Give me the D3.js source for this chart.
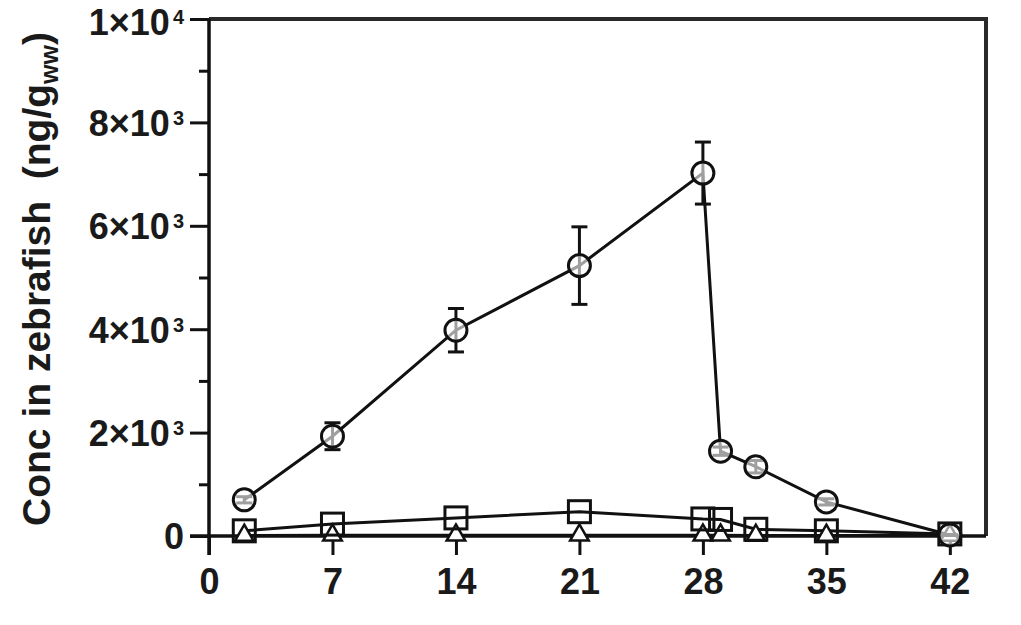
<!DOCTYPE html>
<html><head><meta charset="utf-8">
<script src="https://cdn.jsdelivr.net/npm/d3@7"></script>
<style>body{margin:0;background:#fff}svg{display:block}</style>
</head><body>
<svg id="c" width="1021" height="625"></svg>
<script>
const days = [2, 7, 14, 21, 28, 29, 31, 35, 42];
const circleVals = [700, 1930, 3980, 5230, 7020, 1640, 1340, 660, 20];
const circleErr  = [60, 260, 420, 750, 600, 80, 120, 60, 10];
const squareVals = [100, 230, 350, 470, 330, 320, 130, 100, 40];
const triangleVals = [10, 15, 15, 15, 15, 15, 10, 10, 10];
const xTicks = [0, 7, 14, 21, 28, 35, 42];
const yMajor = [0, 2000, 4000, 6000, 8000, 10000];
const yMinor = [1000, 3000, 5000, 7000, 9000];
const yLabels = ["0", "2×10|3", "4×10|3", "6×10|3", "8×10|3", "1×10|4"];

const svg = d3.select("#c");
const L = 209, R = 986, T = 19, B = 536;
const x = d3.scaleLinear().domain([0, 44.05]).range([L, R]);
const y = d3.scaleLinear().domain([0, 10000]).range([B, T]);
const font = "'Liberation Sans', Arial, sans-serif";

// Frame (top & right)
svg.append("path").attr("d", `M${L},${T}H${R}V${B}`).attr("fill", "none")
  .attr("stroke", "#2a2a2a").attr("stroke-width", 4);

// Y axis minor ticks
const yAxisMinor = d3.axisLeft(y).tickValues(yMinor).tickSize(10).tickFormat("");
svg.append("g").attr("transform", `translate(${L},0)`).call(yAxisMinor)
  .call(g => g.select(".domain").remove())
  .selectAll("line").attr("stroke", "#111").attr("stroke-width", 3);

// Y axis major
const yAxis = d3.axisLeft(y).tickValues(yMajor).tickSize(19).tickPadding(6)
  .tickFormat((d, i) => yLabels[i]);
const gy = svg.append("g").attr("transform", `translate(${L},0)`).call(yAxis);
gy.select(".domain").attr("d", `M0,${y(10000)}V${B + 19}`).attr("stroke", "#111").attr("stroke-width", 3.5);
gy.selectAll("line").attr("stroke", "#111").attr("stroke-width", 3);
gy.selectAll("text").each(function(d) {
  const t = d3.select(this); const s = t.text().split("|");
  t.text(null).attr("font-family", font).attr("font-weight", "bold")
   .attr("font-size", 36).attr("fill", "#1a1a1a").attr("dy", d === 10000 ? "0.42em" : "0.36em");
  t.append("tspan").text(s[0]);
  if (s[1]) t.append("tspan").text(s[1]).attr("font-size", 20).attr("dy", -11).attr("dx", 3);
});

// X axis
const xAxis = d3.axisBottom(x).tickValues(xTicks).tickSize(19).tickPadding(13);
const gx = svg.append("g").attr("transform", `translate(0,${B})`).call(xAxis);
gx.select(".domain").attr("d", `M${L - 19},0H${R}`).attr("stroke", "#111").attr("stroke-width", 3.5);
gx.selectAll("line").attr("stroke", "#111").attr("stroke-width", 3);
gx.selectAll("text").attr("font-family", font).attr("font-weight", "bold")
  .attr("font-size", 36).attr("fill", "#1a1a1a");

// Y label
const yl = svg.append("text").attr("transform", "translate(36,279) rotate(-90)")
  .attr("text-anchor", "middle").attr("dy", "0.36em")
  .attr("font-family", font).attr("font-weight", "bold").attr("font-size", 39).attr("fill", "#1a1a1a");
yl.append("tspan").text("Conc in zebrafish\u00a0\u00a0(ng/g");
yl.append("tspan").text("ww").attr("font-size", 25).attr("dy", 8);
yl.append("tspan").text(")").attr("dy", -8);

const line = d3.line().x(d => x(d[0])).y(d => y(d[1]));
const stroke = "#111";

function series(vals) {
  return days.map((d, i) => [d, vals[i]]);
}

// Lines
[triangleVals, squareVals, circleVals].forEach(v => {
  svg.append("path").datum(series(v)).attr("d", line).attr("fill", "none")
    .attr("stroke", stroke).attr("stroke-width", 3);
});

// Triangles
svg.append("g").selectAll("path").data(series(triangleVals)).join("path")
  .attr("transform", d => `translate(${x(d[0])},${y(d[1])})`)
  .attr("d", d3.symbol(d3.symbolTriangle, 150)())
  .attr("fill", "#fff").attr("stroke", stroke).attr("stroke-width", 2.5);

// Squares
svg.append("g").selectAll("rect").data(series(squareVals)).join("rect")
  .attr("x", d => x(d[0]) - 11).attr("y", d => y(d[1]) - 11)
  .attr("width", 22).attr("height", 22)
  .attr("fill", "none").attr("stroke", stroke).attr("stroke-width", 3);

// Error bars for circles
const eb = svg.append("g");
days.forEach((d, i) => {
  const cx = x(d), top = y(circleVals[i] + circleErr[i]), bot = y(circleVals[i] - circleErr[i]);
  eb.append("line").attr("x1", cx).attr("x2", cx).attr("y1", top).attr("y2", bot)
    .attr("stroke", stroke).attr("stroke-width", 3);
  [top, bot].forEach(yy => eb.append("line").attr("x1", cx - 8).attr("x2", cx + 8)
    .attr("y1", yy).attr("y2", yy).attr("stroke", stroke).attr("stroke-width", 3));
});

// Circles
svg.append("g").selectAll("circle").data(series(circleVals)).join("circle")
  .attr("cx", d => x(d[0])).attr("cy", d => y(d[1])).attr("r", 11)
  .attr("fill", "#fff").attr("fill-opacity", 0.6).attr("stroke", stroke).attr("stroke-width", 3);
</script>
</body></html>
